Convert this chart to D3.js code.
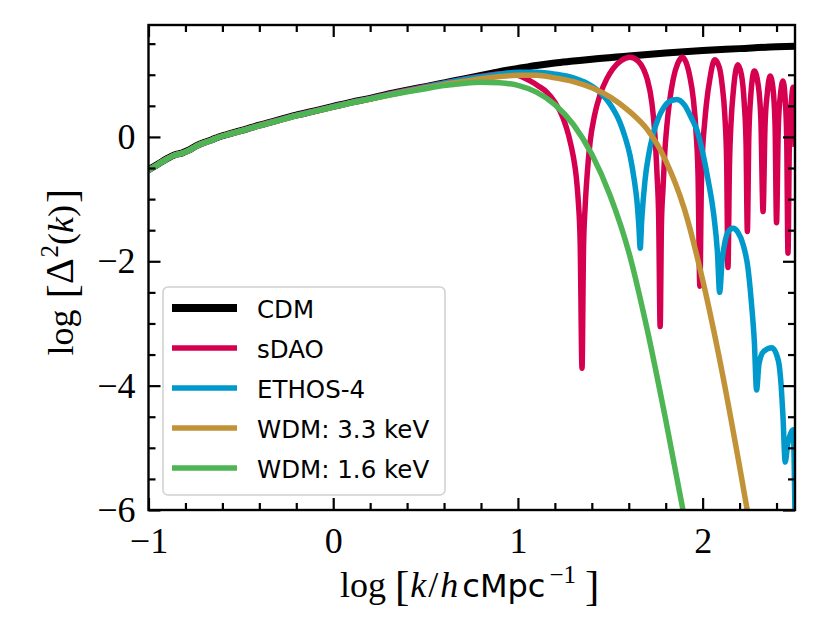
<!DOCTYPE html>
<html><head><meta charset="utf-8">
<script src="https://cdn.jsdelivr.net/npm/d3@7"></script>
<style>body{margin:0;background:#fff} svg{display:block}</style>
</head><body>
<svg id="chart" width="830" height="623"></svg>
<script>
const seriesNames = ["CDM", "sDAO", "ETHOS-4", "WDM: 3.3 keV", "WDM: 1.6 keV"];
const seriesColors = ["#000000", "#d5004f", "#0099cc", "#c19238", "#4db554"];

const xTicks = [-1, 0, 1, 2];
const xMinorTicks = [-0.8, -0.6, -0.4, -0.2, 0.2, 0.4, 0.6, 0.8, 1.2, 1.4, 1.6, 1.8, 2.2, 2.4];
const yTicks = [-6, -4, -2, 0];
const yMinorTicks = [-5.5, -5, -4.5, -3.5, -3, -2.5, -1.5, -1, -0.5, 0.5, 1, 1.5];

const cdm = [[-1,-0.53],[-0.95,-0.44],[-0.9,-0.35],[-0.86,-0.29],[-0.82,-0.26],[-0.78,-0.21],[-0.74,-0.14],[-0.7,-0.09],[-0.66,-0.05],[-0.62,0.0],[-0.58,0.035],[-0.5,0.10],[-0.4,0.19],[-0.3,0.27],[-0.2,0.35],[-0.1,0.42],[0,0.49],[0.1,0.56],[0.2,0.62],[0.3,0.69],[0.4,0.75],[0.5,0.81],[0.6,0.87],[0.7,0.93],[0.8,0.99],[0.9,1.05],[1.0,1.10],[1.1,1.15],[1.2,1.19],[1.3,1.22],[1.4,1.25],[1.6,1.30],[1.8,1.35],[2.0,1.39],[2.2,1.42],[2.4,1.45],[2.5,1.46]];

const sdao = [[-1,-0.53],[-0.95,-0.44],[-0.9,-0.35],[-0.86,-0.29],[-0.82,-0.26],[-0.78,-0.21],[-0.74,-0.14],[-0.7,-0.09],[-0.66,-0.05],[-0.62,0.0],[-0.58,0.035],[-0.5,0.10],[-0.4,0.19],[-0.3,0.27],[-0.2,0.35],[-0.1,0.42],[0,0.49],[0.1,0.56],[0.2,0.62],[0.3,0.69],[0.4,0.75],[0.5,0.81],[0.6,0.87],[0.7,0.925],[0.8,0.975],[0.9,1.015],[0.95,1.02],[1.0,0.99],[1.066,0.90],[1.11,0.82],[1.156,0.72],[1.2,0.56],[1.245,0.30],[1.275,0.02],[1.30,-0.32],[1.315,-0.62],[1.326,-1.0],[1.337,-1.7],[1.347,-3.72],[1.355,-1.8],[1.364,-1.12],[1.375,-0.6],[1.39,-0.1],[1.415,0.35],[1.445,0.68],[1.48,0.93],[1.515,1.1],[1.56,1.23],[1.607,1.28],[1.65,1.22],[1.68,1.09],[1.70,0.93],[1.725,0.55],[1.74,0.1],[1.753,-0.6],[1.762,-1.3],[1.77,-3.05],[1.777,-1.4],[1.785,-0.85],[1.795,-0.25],[1.807,0.2],[1.82,0.55],[1.84,0.92],[1.865,1.18],[1.89,1.28],[1.91,1.2],[1.93,0.98],[1.95,0.6],[1.965,0.05],[1.975,-0.6],[1.985,-2.4],[1.993,-0.8],[2.0,-0.2],[2.01,0.2],[2.02,0.52],[2.04,0.95],[2.065,1.24],[2.09,1.12],[2.105,0.85],[2.12,0.35],[2.13,-0.4],[2.137,-2.1],[2.145,-0.5],[2.155,0.3],[2.165,0.7],[2.19,1.16],[2.21,1.0],[2.225,0.55],[2.235,-0.1],[2.242,-1.52],[2.25,0.0],[2.258,0.55],[2.28,1.06],[2.3,0.85],[2.315,0.3],[2.327,-1.2],[2.338,0.2],[2.35,0.7],[2.365,0.98],[2.38,0.8],[2.392,0.2],[2.40,-1.38],[2.41,0.2],[2.422,0.7],[2.435,0.9],[2.447,0.6],[2.455,0.0],[2.462,-1.87],[2.47,0.0],[2.48,0.55],[2.49,0.8],[2.495,0.6],[2.5,-0.16]];

const ethos = [[-1,-0.535],[-0.95,-0.445],[-0.9,-0.355],[-0.86,-0.295],[-0.82,-0.265],[-0.78,-0.215],[-0.74,-0.145],[-0.7,-0.095],[-0.66,-0.055],[-0.62,-0.005],[-0.58,0.03],[-0.5,0.095],[-0.4,0.185],[-0.3,0.265],[-0.2,0.345],[-0.1,0.415],[0,0.485],[0.1,0.555],[0.2,0.615],[0.3,0.685],[0.4,0.745],[0.5,0.805],[0.6,0.865],[0.7,0.92],[0.8,0.97],[0.9,1.01],[1.0,1.04],[1.1,1.04],[1.2,1.01],[1.3,0.95],[1.375,0.86],[1.45,0.7],[1.5,0.52],[1.55,0.25],[1.58,0.0],[1.607,-0.3],[1.63,-0.7],[1.645,-1.05],[1.655,-1.45],[1.662,-1.79],[1.67,-1.35],[1.688,-0.7],[1.71,-0.25],[1.73,0.02],[1.76,0.3],[1.785,0.45],[1.82,0.57],[1.86,0.6],[1.9,0.52],[1.94,0.3],[1.97,0.1],[2.0,-0.25],[2.03,-0.7],[2.06,-1.25],[2.08,-1.85],[2.092,-2.5],[2.105,-2.0],[2.12,-1.7],[2.14,-1.52],[2.165,-1.47],[2.19,-1.53],[2.22,-1.74],[2.245,-2.1],[2.265,-2.7],[2.28,-3.3],[2.292,-4.07],[2.305,-3.65],[2.33,-3.45],[2.375,-3.39],[2.41,-3.6],[2.425,-4.0],[2.435,-4.5],[2.447,-5.23],[2.46,-4.95],[2.475,-4.78],[2.49,-4.71],[2.5,-6.1]];

const wdm33 = [[-1,-0.535],[-0.95,-0.445],[-0.9,-0.355],[-0.86,-0.295],[-0.82,-0.265],[-0.78,-0.215],[-0.74,-0.145],[-0.7,-0.095],[-0.66,-0.055],[-0.62,-0.005],[-0.58,0.03],[-0.5,0.095],[-0.4,0.18],[-0.3,0.26],[-0.2,0.34],[-0.1,0.41],[0,0.48],[0.1,0.55],[0.2,0.61],[0.3,0.675],[0.4,0.735],[0.5,0.79],[0.6,0.845],[0.7,0.89],[0.8,0.935],[0.9,0.97],[1.0,0.99],[1.1,0.99],[1.2,0.95],[1.3,0.89],[1.4,0.79],[1.5,0.64],[1.6,0.42],[1.7,0.12],[1.8,-0.38],[1.9,-1.15],[2.0,-2.3],[2.1,-3.7],[2.2,-5.3],[2.3,-7.0]];

const wdm16 = [[-1,-0.535],[-0.95,-0.445],[-0.9,-0.355],[-0.86,-0.295],[-0.82,-0.265],[-0.78,-0.215],[-0.74,-0.145],[-0.7,-0.095],[-0.66,-0.055],[-0.62,-0.005],[-0.58,0.03],[-0.5,0.095],[-0.4,0.18],[-0.3,0.26],[-0.2,0.34],[-0.1,0.41],[0,0.48],[0.1,0.55],[0.2,0.61],[0.3,0.67],[0.4,0.725],[0.5,0.775],[0.6,0.825],[0.7,0.86],[0.8,0.88],[0.9,0.87],[1.0,0.83],[1.1,0.72],[1.2,0.52],[1.3,0.2],[1.4,-0.28],[1.5,-0.95],[1.6,-1.85],[1.7,-3.1],[1.8,-4.55],[1.9,-6.1],[2.0,-7.7]];

const seriesData = [cdm, sdao, ethos, wdm33, wdm16];
const seriesWidths = [7, 5.5, 5.5, 5.5, 5.5];

const svg = d3.select("#chart");
const L = 148.5, R = 795, T = 25, B = 510;
const x = d3.scaleLinear().domain([-1, 2.5]).range([L, R]);
const y = d3.scaleLinear().domain([-6, 1.8]).range([B, T]);

svg.append("defs").append("clipPath").attr("id", "clip")
  .append("rect").attr("x", L).attr("y", T).attr("width", R - L).attr("height", B - T);

const line = d3.line().x(d => x(d[0])).y(d => y(d[1])).curve(d3.curveMonotoneX);
const plot = svg.append("g").attr("clip-path", "url(#clip)");
seriesData.forEach((s, i) => {
  plot.append("path").datum(s).attr("d", line)
    .attr("fill", "none").attr("stroke", seriesColors[i])
    .attr("stroke-width", seriesWidths[i])
    .attr("stroke-linejoin", "round").attr("stroke-linecap", "butt");
});

const fmt = d => d < 0 ? "\u2212" + Math.abs(d) : String(d);
const serif = "'Liberation Serif', 'Times New Roman', serif";

function styleAxis(g) {
  g.select(".domain").remove();
  g.selectAll(".tick line").attr("stroke", "#000").attr("stroke-width", 2.2);
  g.selectAll("text").attr("font-family", serif).attr("font-size", 36).attr("fill", "#000");
}
// bottom
svg.append("g").attr("transform", `translate(0,${B})`)
  .call(d3.axisBottom(x).tickValues(xTicks).tickFormat(fmt).tickSizeInner(-12).tickSizeOuter(0).tickPadding(17)).call(styleAxis);
svg.append("g").attr("transform", `translate(0,${B})`)
  .call(d3.axisBottom(x).tickValues(xMinorTicks).tickFormat("").tickSizeInner(-7).tickSizeOuter(0)).call(styleAxis);
// top
svg.append("g").attr("transform", `translate(0,${T})`)
  .call(d3.axisTop(x).tickValues(xTicks).tickFormat("").tickSizeInner(-12).tickSizeOuter(0)).call(styleAxis);
svg.append("g").attr("transform", `translate(0,${T})`)
  .call(d3.axisTop(x).tickValues(xMinorTicks).tickFormat("").tickSizeInner(-7).tickSizeOuter(0)).call(styleAxis);
// left
svg.append("g").attr("transform", `translate(${L},0)`)
  .call(d3.axisLeft(y).tickValues(yTicks).tickFormat(fmt).tickSizeInner(-12).tickSizeOuter(0).tickPadding(13)).call(styleAxis);
svg.append("g").attr("transform", `translate(${L},0)`)
  .call(d3.axisLeft(y).tickValues(yMinorTicks).tickFormat("").tickSizeInner(-7).tickSizeOuter(0)).call(styleAxis);
// right
svg.append("g").attr("transform", `translate(${R},0)`)
  .call(d3.axisRight(y).tickValues(yTicks).tickFormat("").tickSizeInner(-12).tickSizeOuter(0)).call(styleAxis);
svg.append("g").attr("transform", `translate(${R},0)`)
  .call(d3.axisRight(y).tickValues(yMinorTicks).tickFormat("").tickSizeInner(-7).tickSizeOuter(0)).call(styleAxis);

svg.append("rect").attr("x", L).attr("y", T).attr("width", R - L).attr("height", B - T)
  .attr("fill", "none").attr("stroke", "#000").attr("stroke-width", 2.4);

// x label
const xl = svg.append("text").attr("x", 340).attr("y", 597)
  .attr("text-anchor", "start").attr("font-family", serif).attr("font-size", 36).attr("fill", "#000");
xl.append("tspan").text("log");
xl.append("tspan").attr("dx", 9).attr("font-size", 43).attr("dy", 3).text("[");
xl.append("tspan").attr("font-style", "italic").attr("dy", -3).attr("dx", 1).text("k");
xl.append("tspan").attr("dx", 2).text("/");
xl.append("tspan").attr("font-style", "italic").attr("dx", 2).text("h");
xl.append("tspan").attr("font-family", "'DejaVu Sans', sans-serif").attr("font-size", 32).attr("dx", 4).text("cMpc");
xl.append("tspan").attr("font-size", 25).attr("dy", -14).attr("dx", 4).text("\u22121");
xl.append("tspan").attr("font-size", 43).attr("dy", 17).attr("dx", 9).text("]");

// y label
const yl = svg.append("text").attr("transform", "translate(73,272) rotate(-90)")
  .attr("text-anchor", "middle").attr("font-family", serif).attr("font-size", 36).attr("fill", "#000");
yl.append("tspan").text("log");
yl.append("tspan").attr("dx", 11).attr("font-size", 43).attr("dy", 3).text("[");
yl.append("tspan").attr("font-size", 40).attr("dy", -3).text("\u0394");
yl.append("tspan").attr("font-size", 25).attr("dy", -15).attr("dx", 1).text("2");
yl.append("tspan").attr("dy", 15).text("(");
yl.append("tspan").attr("font-style", "italic").text("k");
yl.append("tspan").text(")");
yl.append("tspan").attr("font-size", 43).attr("dy", 3).attr("dx", 2).text("]");

// legend
const lg = svg.append("g");
lg.append("rect").attr("x", 163).attr("y", 287).attr("width", 282).attr("height", 208)
  .attr("rx", 5).attr("fill", "#fff").attr("fill-opacity", 0.85).attr("stroke", "#d0d0d0").attr("stroke-width", 1.5);
seriesNames.forEach((n, i) => {
  const yy = 308 + i * 40;
  lg.append("line").attr("x1", 172).attr("x2", 237).attr("y1", yy).attr("y2", yy)
    .attr("stroke", seriesColors[i]).attr("stroke-width", i === 0 ? 8 : 5.5);
  lg.append("text").attr("x", 257).attr("y", yy + 9.5)
    .attr("font-family", "'DejaVu Sans', sans-serif").attr("font-size", 24.5).attr("fill", "#000").text(n);
});
</script>
</body></html>
